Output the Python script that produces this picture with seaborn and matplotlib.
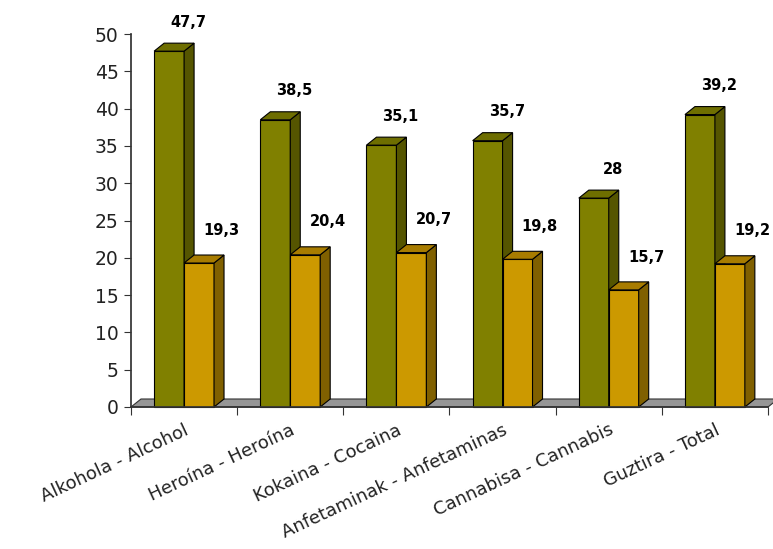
import numpy as np
import pandas as pd
import seaborn as sns
import matplotlib
matplotlib.use("Agg")
from matplotlib import pyplot as plt
from matplotlib.patches import Polygon, Rectangle

# datuak
categories = ["Alkohola - Alcohol", "Heroína - Heroína", "Kokaina - Cocaina",
              "Anfetaminak - Anfetaminas", "Cannabisa - Cannabis", "Guztira - Total"]
serie1 = [47.7, 38.5, 35.1, 35.7, 28, 39.2]
serie2 = [19.3, 20.4, 20.7, 19.8, 15.7, 19.2]
series_names = ["Serie 1", "Serie 2"]
yticks = [0, 5, 10, 15, 20, 25, 30, 35, 40, 45, 50]

df = pd.DataFrame({
    "kategoria": categories * 2,
    "serie": [series_names[0]] * len(categories) + [series_names[1]] * len(categories),
    "balioa": serie1 + serie2,
})

sns.set_theme(style="white")
plt.rcParams["font.family"] = ["DejaVu Sans"]

# kolorea: aurrea, goikoa, alboa
front = {series_names[0]: "#808000", series_names[1]: "#CC9900"}
top_c = {"#808000": "#6E6E00", "#cc9900": "#A87C00"}
side_c = {"#808000": "#555500", "#cc9900": "#806000"}

fig = plt.figure(figsize=(7.73, 5.49), dpi=100)
ax = fig.add_axes([131 / 773, 1 - 407 / 549, (768 - 131) / 773, (407 - 34) / 549])

sns.barplot(data=df, x="kategoria", y="balioa", hue="serie", palette=front,
            width=0.564, saturation=1, legend=False, ax=ax,
            edgecolor="black", linewidth=0.8)

ax.set_xlim(-0.5, 5.5)
ax.set_ylim(0, 50)

# 3D sakonera pixeletan -> datu unitateetan
px_x = (768 - 131) / 6.0
px_y = (407 - 34) / 50.0
dx = 10 / px_x
dy = 8 / px_y

bars = sorted([p for p in ax.patches if isinstance(p, Rectangle)], key=lambda p: p.get_x())

# lurra
floor = Polygon([(-0.5, 0), (-0.5 + dx, dy), (5.5 + dx, dy), (5.5, 0)],
                closed=True, facecolor="#969696", edgecolor="#333333",
                linewidth=0.8, clip_on=False, zorder=1)
ax.add_patch(floor)

for i, p in enumerate(bars):
    x0 = p.get_x()
    w = p.get_width()
    h = p.get_height()
    col = matplotlib.colors.to_hex(p.get_facecolor())
    z = 2 + i * 0.1
    p.set_zorder(z)
    p.set_clip_on(False)
    top = Polygon([(x0, h), (x0 + dx, h + dy), (x0 + w + dx, h + dy), (x0 + w, h)],
                  closed=True, facecolor=top_c.get(col, col), edgecolor="black",
                  linewidth=0.8, clip_on=False, zorder=z)
    side = Polygon([(x0 + w, 0), (x0 + w + dx, dy), (x0 + w + dx, h + dy), (x0 + w, h)],
                   closed=True, facecolor=side_c.get(col, col), edgecolor="black",
                   linewidth=0.8, clip_on=False, zorder=z)
    ax.add_patch(side)
    ax.add_patch(top)

# etiketak
xs = np.arange(len(categories))
for i in xs:
    ax.text(i - 0.141 + 0.18, serie1[i] + 3.9, str(serie1[i]).replace(".", ","),
            ha="center", va="center", fontsize=10.5, fontweight="bold",
            color="black", zorder=10)
    ax.text(i + 0.141 + 0.21, serie2[i] + 4.4, str(serie2[i]).replace(".", ","),
            ha="center", va="center", fontsize=10.5, fontweight="bold",
            color="black", zorder=10)

# ardatzak
for s in ["top", "right"]:
    ax.spines[s].set_visible(False)
ax.spines["left"].set_color("#333333")
ax.spines["bottom"].set_color("#333333")
ax.spines["left"].set_zorder(20)
ax.spines["bottom"].set_zorder(20)

ax.set_yticks(yticks)
ax.set_yticklabels([str(t) for t in yticks], fontsize=13.5, color="#222222")
ax.tick_params(axis="y", direction="out", length=5, width=0.8, color="#333333",
               left=True, pad=4)

ax.set_xticks(xs)
ax.set_xticklabels(categories, rotation=25, ha="right", rotation_mode="anchor",
                   fontsize=13, color="#222222")
ax.set_xticks(np.arange(-0.5, 6, 1), minor=True)
ax.tick_params(axis="x", which="major", length=0, pad=10)
ax.tick_params(axis="x", which="minor", direction="out", length=6, width=0.8,
               color="#333333", bottom=True)
ax.set_xlabel("")
ax.set_ylabel("")

fig.savefig("out.png", dpi=100)
